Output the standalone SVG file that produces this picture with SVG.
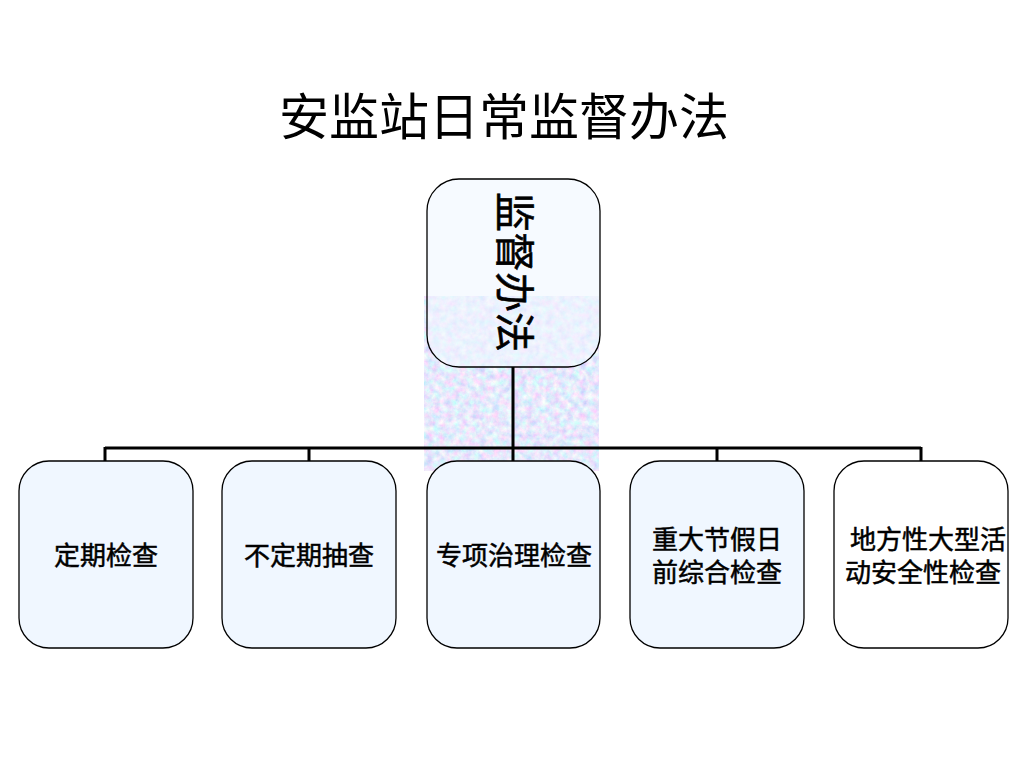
<svg xmlns="http://www.w3.org/2000/svg" width="1024" height="768" viewBox="0 0 1024 768">
<defs>
<filter id="noise" x="0" y="0" width="100%" height="100%">
<feTurbulence type="fractalNoise" baseFrequency="0.15" numOctaves="5" seed="7"/>
<feColorMatrix type="matrix" values="0.75 0 0 0 0.42  0 0.6 0 0 0.52  0 0 0.1 0 0.92  0 0 0 0 1"/>
</filter>
<style>
.box{stroke:#000;stroke-width:1.3;fill:#f0f7ff}
.boxw{stroke:#000;stroke-width:1.3;fill:#fff}
.lbl{font-family:"Liberation Sans","Noto Sans CJK SC",sans-serif;font-size:26px;fill:#000;stroke:#000;stroke-width:0.5;text-anchor:middle}
.conn{stroke:#000;stroke-width:3;fill:none}
</style>
</defs>
<rect width="1024" height="768" fill="#fff"/>
<text x="504" y="135" font-family="Liberation Serif,'Noto Sans CJK SC',serif" font-size="50" text-anchor="middle" fill="#000">安监站日常监督办法</text>
<rect x="424" y="296" width="175" height="175" filter="url(#noise)"/>
<g id="connectors">
<path class="conn" d="M513 367 V448 M105 448 H921 M105 447 V461 M309 447 V461 M513 447 V461 M717 447 V461 M921 447 V461"/>
</g>
<g id="n0">
<rect class="box" x="427" y="179" width="173" height="188" rx="32" fill-opacity="0.6"/>
<text transform="translate(513,272) rotate(90)" font-family="Liberation Serif,'Noto Sans CJK SC',serif" font-size="40" text-anchor="middle" dominant-baseline="central" fill="#000" stroke="#000" stroke-width="0.6">监督办法</text>
</g>
<g id="n1">
<rect class="box" x="19" y="461" width="174" height="187" rx="30"/>
<text class="lbl" x="106" y="565">定期检查</text>
</g>
<g id="n2">
<rect class="box" x="222" y="461" width="174" height="187" rx="30"/>
<text class="lbl" x="309" y="565">不定期抽查</text>
</g>
<g id="n3">
<rect class="box" x="427" y="461" width="173" height="187" rx="30"/>
<text class="lbl" x="514" y="565">专项治理检查</text>
</g>
<g id="n4">
<rect class="box" x="630" y="461" width="174" height="187" rx="30"/>
<text class="lbl" x="717" y="549">重大节假日</text>
<text class="lbl" x="717" y="582">前综合检查</text>
</g>
<g id="n5">
<rect class="boxw" x="834" y="461" width="174" height="187" rx="30"/>
<text class="lbl" x="928" y="549">地方性大型活</text>
<text class="lbl" x="923" y="582">动安全性检查</text>
</g>
</svg>
